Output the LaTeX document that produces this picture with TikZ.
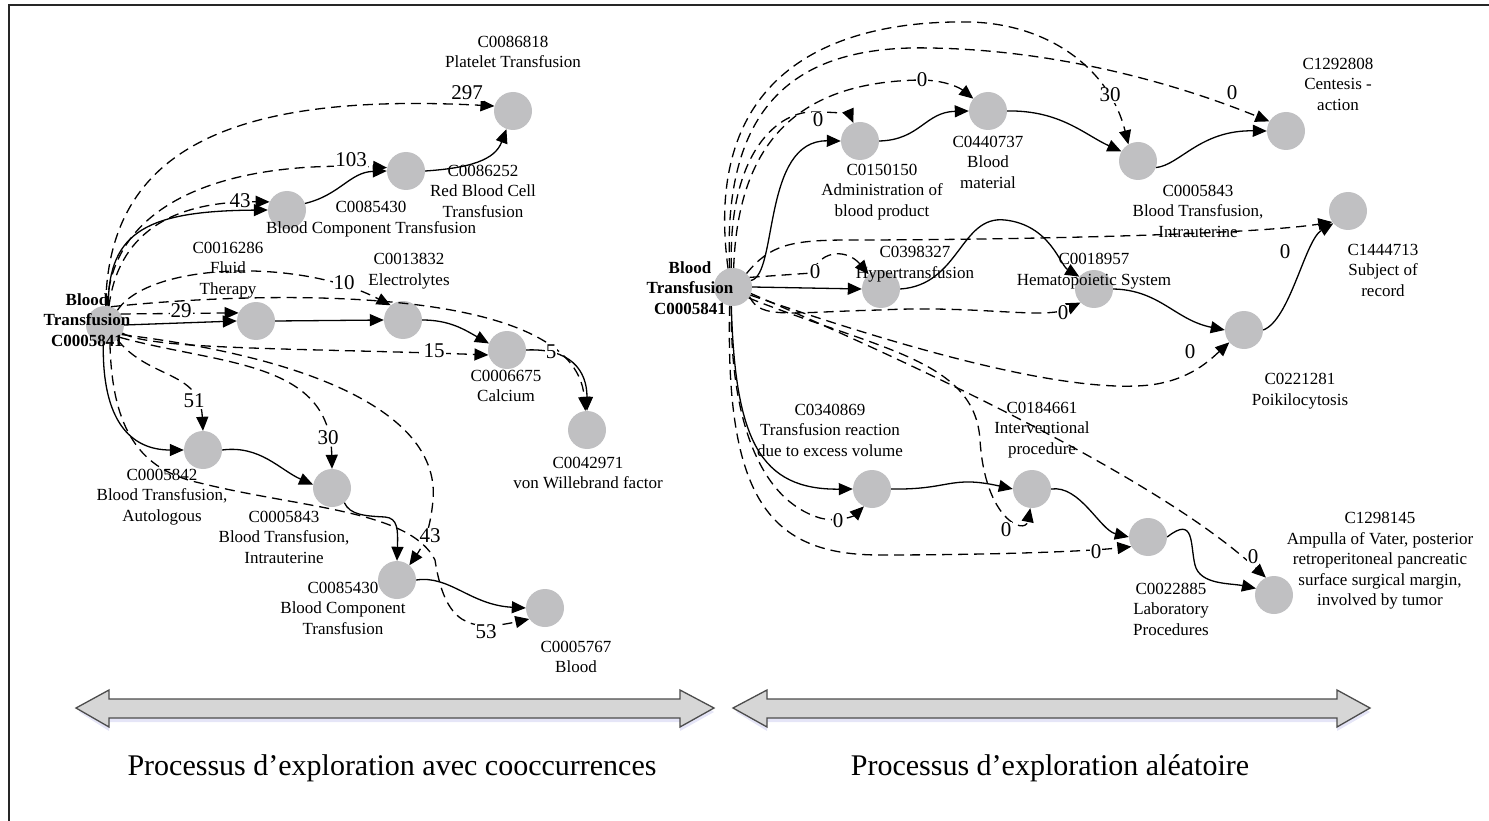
\documentclass[tikz,border=0pt]{standalone}
\usepackage{fontspec}
\setmainfont{Liberation Serif}
\usetikzlibrary{arrows.meta}
\definecolor{conceptgray}{RGB}{192,192,194}
\begin{document}
\begin{tikzpicture}[x=1pt,y=-1pt,
  concept/.style={circle, fill=conceptgray, minimum size=38pt, inner sep=0pt},
  lbl/.style={font=\fontsize{17}{20.5}\selectfont, align=center, inner sep=0pt},
  srclbl/.style={font=\fontsize{17}{20.5}\selectfont\bfseries, align=center, inner sep=0pt},
  wt/.style={font=\fontsize{21}{21}\selectfont, inner sep=1pt, fill=white},
  rel/.style={line width=1.3pt, -{Triangle[length=14pt,width=12pt]}},
  cooc/.style={rel, dash pattern=on 10pt off 6pt},
  bigarrow/.style={fill=black!16, draw=black!70, line width=1.3pt, line join=miter},
  title/.style={font=\fontsize{30}{32}\selectfont, inner sep=0pt}]
\useasboundingbox (0,0) rectangle (1489,821);
\fill[white] (0,0) rectangle (1489,821);
% frame
\draw[line width=2.6pt, black!85] (9,821) -- (9,5) -- (1489,5);

% ---------- left graph: concepts ----------
\node[concept] (LS) at (105,325) {};
\node[concept] (P1) at (513,111) {};
\node[concept] (R1) at (406,171) {};
\node[concept] (B1) at (287,210) {};
\node[concept] (F1) at (256,321) {};
\node[concept] (E1) at (403,320) {};
\node[concept] (CA) at (507,350) {};
\node[concept] (VW) at (587,430) {};
\node[concept] (AU) at (203,450) {};
\node[concept] (IU) at (332,488) {};
\node[concept] (BC) at (397,580) {};
\node[concept] (BL) at (545,608) {};

\node[srclbl] (LSl) at (87,320) {Blood\\Transfusion\\C0005841};
\node[lbl] (P1l) at (513,52) {C0086818\\Platelet Transfusion};
\node[lbl] (R1l) at (483,191) {C0086252\\Red Blood Cell\\Transfusion};
\node[lbl] (B1l) at (371,219) {C0085430\\Blood Component Transfusion};
\node[lbl] (F1l) at (228,270) {C0016286\\Fluid\\Therapy};
\node[lbl] (E1l) at (409,271) {C0013832\\Electrolytes};
\node[lbl] (CAl) at (506,386) {C0006675\\Calcium};
\node[lbl] (VWl) at (588,473) {C0042971\\von Willebrand factor};
\node[lbl] (AUl) at (162,497) {C0005842\\Blood Transfusion,\\Autologous};
\node[lbl] (IUl) at (284,537) {C0005843\\Blood Transfusion,\\Intrauterine};
\node[lbl] (BCl) at (343,608) {C0085430\\Blood Component\\Transfusion};
\node[lbl] (BLl) at (576,657) {C0005767\\Blood};

% ---------- left graph: relations ----------
\draw[rel] (LS.80) .. controls (108,230) and (150,211) .. (B1.west);
\draw[rel] (B1.20) .. controls (340,195) and (350,172) .. (R1.west);
\draw[rel] (R1.east) .. controls (470,168) and (495,160) .. (P1.250);
\draw[rel] (LS.east) -- (F1.west);
\draw[rel] (F1.east) -- (E1.west);
\draw[rel] (E1.east) .. controls (450,320) and (465,330) .. (CA.160);
\draw[rel] (CA.east) .. controls (570,348) and (587,370) .. (VW.north);
\draw[rel] (LS.265) .. controls (102,420) and (130,450) .. (AU.west);
\draw[rel] (AU.east) .. controls (260,445) and (280,470) .. (IU.170);
\draw[rel] (IU.-50) .. controls (350,515) and (365,516) .. (385,517) .. controls (398,518) and (398,530) .. (BC.north);
\draw[rel] (BC.east) .. controls (450,575) and (470,605) .. (BL.west);

\draw[cooc] (LS.88) .. controls (108,150) and (230,92) .. (P1.165);
\draw[cooc] (LS.84) .. controls (112,200) and (230,160) .. (R1.170);
\draw[cooc] (LS.78) .. controls (118,235) and (170,201) .. (B1.155);
\draw[cooc] (LS.35) -- (F1.155);
\draw[cooc] (LS.50) .. controls (150,262) and (300,258) .. (E1.130);
\draw[cooc] (LS.72) .. controls (250,292) and (575,280) .. (VW.95);
\draw[cooc] (LS.-25) .. controls (150,350) and (300,348) .. (CA.195);
\draw[cooc] (LS.-50) .. controls (150,380) and (200,370) .. (AU.north);
\draw[cooc] (LS.-40) .. controls (220,365) and (330,360) .. (IU.north);
\draw[cooc] (LS.-30) .. controls (330,360) and (440,420) .. (433,500) .. controls (430,535) and (420,550) .. (BC.50);
\draw[cooc] (LS.-75) .. controls (112,430) and (140,470) .. (200,483) .. controls (300,508) and (410,510) .. (435,560) .. controls (445,625) and (470,632) .. (BL.215);

\node[wt] (w297) at (467,93) {297};
\node[wt] (w103) at (351,160) {103};
\node[wt] (w43a) at (240,201) {43};
\node[wt] (w29) at (181,311) {29};
\node[wt] (w10) at (344,283) {10};
\node[wt] (w5) at (551,352) {5};
\node[wt] (w15) at (434,351) {15};
\node[wt] (w51) at (194,401) {51};
\node[wt] (w30a) at (328,438) {30};
\node[wt] (w43b) at (430,536) {43};
\node[wt] (w53) at (486,632) {53};

% ---------- right graph: concepts ----------
\node[concept] (RS) at (733,287) {};
\node[concept] (AB) at (860,141) {};
\node[concept] (BM) at (988,111) {};
\node[concept] (IR) at (1138,161) {};
\node[concept] (CE) at (1286,131) {};
\node[concept] (SR) at (1348,211) {};
\node[concept] (HT) at (881,289) {};
\node[concept] (HS) at (1094,289) {};
\node[concept] (PK) at (1244,330) {};
\node[concept] (TR) at (872,489) {};
\node[concept] (IV) at (1032,489) {};
\node[concept] (LP) at (1148,537) {};
\node[concept] (AM) at (1274,595) {};

\node[srclbl] (RSl) at (690,288) {Blood\\Transfusion\\C0005841};
\node[lbl] (ABl) at (882,192) {C0150150\\Administration of\\blood product};
\node[lbl] (BMl) at (988,162) {C0440737\\Blood\\material};
\node[lbl] (IRl) at (1198,211) {C0005843\\Blood Transfusion,\\Intrauterine};
\node[lbl] (CEl) at (1338,84) {C1292808\\Centesis -\\action};
\node[lbl] (SRl) at (1383,270) {C1444713\\Subject of\\record};
\node[lbl] (HTl) at (915,264) {C0398327\\Hypertransfusion};
\node[lbl] (HSl) at (1094,271) {C0018957\\Hematopoietic System};
\node[lbl] (PKl) at (1300,391) {C0221281\\Poikilocytosis};
\node[lbl] (TRl) at (830,430) {C0340869\\Transfusion reaction\\due to excess volume};
\node[lbl] (IVl) at (1042,430) {C0184661\\Interventional\\procedure};
\node[lbl] (LPl) at (1171,609) {C0022885\\Laboratory\\Procedures};
\node[lbl] (AMl) at (1380,561) {C1298145\\Ampulla of Vater, posterior\\retroperitoneal pancreatic\\surface surgical margin,\\involved by tumor};

% ---------- right graph: relations ----------
\draw[rel] (RS.20) .. controls (778,275) and (762,140) .. (AB.west);
\draw[rel] (AB.east) .. controls (920,140) and (925,112) .. (BM.west);
\draw[rel] (BM.east) .. controls (1060,110) and (1085,135) .. (IR.150);
\draw[rel] (IR.-20) .. controls (1180,165) and (1200,130) .. (CE.west);
\draw[rel] (RS.east) -- (HT.west);
\draw[rel] (HT.east) .. controls (960,285) and (960,215) .. (1005,220) .. controls (1050,225) and (1060,265) .. (HS.140);
\draw[rel] (HS.east) .. controls (1160,290) and (1175,320) .. (PK.west);
\draw[rel] (PK.east) .. controls (1290,320) and (1305,240) .. (SR.220);
\draw[rel] (RS.265) .. controls (735,440) and (760,490) .. (TR.west);
\draw[rel] (TR.east) .. controls (950,490) and (950,475) .. (IV.west);
\draw[rel] (IV.east) .. controls (1080,485) and (1100,530) .. (LP.west);
\draw[rel] (LP.east) .. controls (1195,515) and (1190,545) .. (1195,565) .. controls (1200,585) and (1230,583) .. (AM.160);

\draw[cooc] (RS.95) .. controls (728,150) and (780,110) .. (815,112) .. controls (840,112) and (850,115) .. (AB.110);
\draw[cooc] (RS.88) .. controls (738,140) and (800,82) .. (920,80) .. controls (945,80) and (960,88) .. (BM.140);
\draw[cooc] (RS.100) .. controls (722,100) and (800,45) .. (930,48) .. controls (1060,50) and (1180,85) .. (CE.150);
\draw[cooc] (RS.105) .. controls (700,60) and (850,20) .. (970,22) .. controls (1050,24) and (1110,70) .. (IR.120);
\draw[cooc] (RS.45) .. controls (770,245) and (790,240) .. (850,240) .. controls (1000,240) and (1250,235) .. (SR.215);
\draw[cooc] (RS.30) -- (812,273) .. controls (822,248) and (848,250) .. (HT.130);
\draw[cooc] (RS.-30) .. controls (760,320) and (790,312) .. (880,310) .. controls (980,305) and (1045,320) .. (HS.225);
\draw[cooc] (RS.-25) .. controls (880,340) and (1060,395) .. (1150,385) .. controls (1190,380) and (1210,360) .. (PK.220);
\draw[cooc] (RS.-35) .. controls (880,350) and (975,360) .. (980,440) .. controls (985,520) and (1025,535) .. (IV.265);
\draw[cooc] (RS.-20) .. controls (870,345) and (1150,470) .. (AM.115);
\draw[cooc] (RS.-95) .. controls (730,420) and (760,500) .. (820,518) .. controls (840,523) and (855,515) .. (TR.245);
\draw[cooc] (RS.-100) .. controls (725,500) and (770,555) .. (880,555) .. controls (980,555) and (1080,552) .. (LP.210);

\node[wt] (r0a) at (818,120) {0};
\node[wt] (r0b) at (922,80) {0};
\node[wt] (r30) at (1110,95) {30};
\node[wt] (r0c) at (1232,93) {0};
\node[wt] (r0d) at (1285,252) {0};
\node[wt] (r0e) at (815,272) {0};
\node[wt] (r0f) at (1063,313) {0};
\node[wt] (r0g) at (1190,352) {0};
\node[wt] (r0h) at (838,521) {0};
\node[wt] (r0i) at (1006,530) {0};
\node[wt] (r0j) at (1096,552) {0};
\node[wt] (r0k) at (1253,557) {0};

% ---------- process arrows and captions ----------
\fill[black!30!blue, opacity=0.10] (79,712) -- (109,694) -- (109,703) -- (680,703) -- (680,694) -- (714,712) -- (680,731) -- (680,722) -- (109,722) -- (109,731) -- cycle;
\draw[bigarrow] (76,708) -- (109,690) -- (109,699) -- (680,699) -- (680,690) -- (714,708) -- (680,727) -- (680,718) -- (109,718) -- (109,727) -- cycle;
\fill[black!30!blue, opacity=0.10] (736,712) -- (767,694) -- (767,703) -- (1337,703) -- (1337,694) -- (1370,712) -- (1337,731) -- (1337,722) -- (767,722) -- (767,731) -- cycle;
\draw[bigarrow] (733,708) -- (767,690) -- (767,699) -- (1337,699) -- (1337,690) -- (1370,708) -- (1337,727) -- (1337,718) -- (767,718) -- (767,727) -- cycle;

\node[title] (cap1) at (392,768) {Processus d’exploration avec cooccurrences};
\node[title] (cap2) at (1050,768) {Processus d’exploration aléatoire};
\end{tikzpicture}
\end{document}
